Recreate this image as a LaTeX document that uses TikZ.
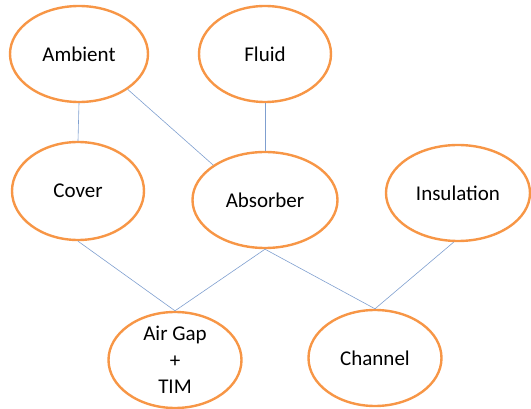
\documentclass[tikz,border=0pt]{standalone}
\usepackage{fontspec}
\setmainfont{Carlito}
\usetikzlibrary{shapes.geometric}
\definecolor{ringorange}{HTML}{F79646}
\definecolor{linkblue}{HTML}{7F9FCF}
\begin{document}
\begin{tikzpicture}[x=1pt,y=-1pt,
        part/.style={ellipse,draw=ringorange,line width=2.4pt,inner sep=0pt,
            minimum width=136pt,minimum height=96pt,align=center,
            font=\fontsize{21}{26.5}\selectfont},
        link/.style={draw=linkblue,line width=0.6pt}]
        \useasboundingbox (0,0) rectangle (531,409);

        \node[part,minimum width=138pt] (ambient) at (79,54) {Ambient};
        \node[part,minimum width=132pt] (fluid) at (265,54) {Fluid};
        \node[part,minimum width=132pt,minimum height=98pt] (cover) at (78,191) {Cover};
        \node[part,minimum width=145pt] (absorber) at (265,200) {Absorber};
        \node[part,minimum width=144pt] (insulation) at (458,193) {Insulation};
        \node[part,minimum width=133pt] (airgap) at (175,360) {Air Gap\\+\\TIM};
        \node[part,minimum width=133pt] (channel) at (375,358) {Channel};

        \draw[link] (ambient.south) -- (cover.north);
        \draw[link] (ambient.-36) -- (absorber.146);
        \draw[link] (fluid.south) -- (absorber.north);
        \draw[link] (cover.south) -- (airgap.north);
        \draw[link] (absorber.south) -- (airgap.north);
        \draw[link] (absorber.south) -- (channel.north);
        \draw[link] (insulation.-95) -- (channel.north);
    \end{tikzpicture}
\end{document}
